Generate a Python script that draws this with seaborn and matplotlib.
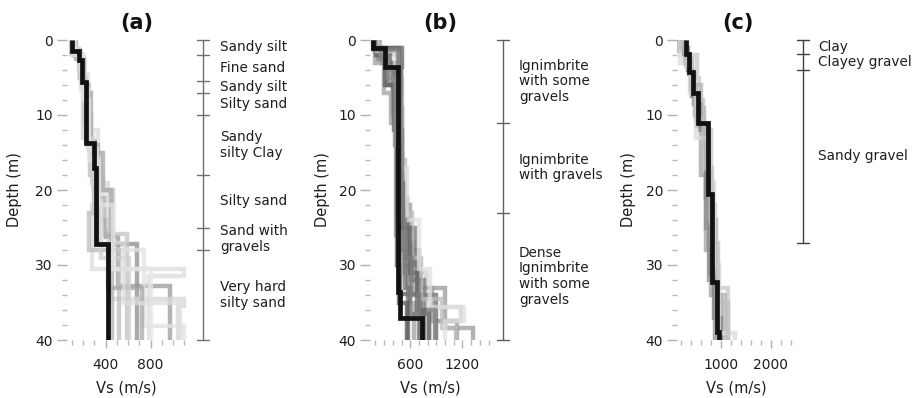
import numpy as np
import pandas as pd
import matplotlib
matplotlib.use("Agg")
import matplotlib.pyplot as plt
import seaborn as sns
from matplotlib.transforms import blended_transform_factory

sns.set_theme(style="white")
plt.rcParams['font.family'] = ['DejaVu Sans']

W, H = 923, 398
DEPTH_MAX = 40

# ---------------- Site (a) ----------------
A_MEAN_TOPS = [0, 1.4, 2.6, 5.6, 13.7, 17.0, 27.2]
A_MEAN_VS = [100, 160, 190, 222, 300, 315, 420]
A_TOPS = [
    [0, 1.5, 5.0, 13.5, 17.0, 24.0, 26.2, 32.8],
    [0, 1.4, 3.0, 6.0, 14.0, 18.0, 27.2],
    [0, 2.0, 6.0, 12.0, 18.0, 22.0, 30.5, 31.5],
    [0, 2.2, 7.0, 15.0, 19.0, 25.0, 34.5, 35.5],
    [0, 1.8, 5.5, 10.0, 16.0, 20.0, 25.8],
    [0, 1.6, 4.5, 12.0, 20.0, 28.0, 38.1],
    [0, 2.0, 6.0, 14.0, 21.0, 26.0],
    [0, 1.5, 5.0, 11.0, 18.0, 23.0, 28.0],
    [0, 2.5, 7.0, 15.0, 20.0, 27.0, 33.0],
    [0, 1.2, 4.0, 13.0, 19.0, 24.0, 29.0],
    [0, 2.0, 8.0, 16.0, 22.0, 30.5],
    [0, 1.8, 6.5, 14.5, 21.5, 27.0, 35.0],
]
A_VS = [
    [110, 175, 225, 305, 330, 400, 515, 975],
    [105, 170, 205, 240, 320, 335, 680],
    [115, 195, 250, 330, 380, 280, 1100, 790],
    [125, 205, 260, 360, 420, 440, 1100, 1045],
    [95, 180, 215, 270, 350, 470, 590],
    [130, 185, 240, 290, 300, 740, 1100],
    [120, 190, 245, 330, 390, 460],
    [100, 170, 210, 260, 300, 250, 520],
    [140, 210, 270, 380, 450, 420, 720],
    [110, 165, 200, 280, 320, 360, 610],
    [125, 200, 255, 340, 470, 800],
    [115, 185, 240, 320, 360, 560, 1060],
]
A_SHADES = ['#9a9a9a', '#8c8c8c', '#dcdcdc', '#d6d6d6', '#c4c4c4', '#e2e2e2',
            '#b0b0b0', '#bdbdbd', '#a8a8a8', '#cfcfcf', '#e6e6e6', '#dedede']
A_UNIT_BOUNDS = [0, 2, 5.5, 7, 10, 18, 25, 28, 40]
A_UNIT_NAMES = ["Sandy silt", "Fine sand", "Sandy silt", "Silty sand",
                "Sandy\nsilty Clay", "Silty sand", "Sand with\ngravels",
                "Very hard\nsilty sand"]

# ---------------- Site (b) ----------------
B_MEAN_TOPS = [0, 1.1, 3.6, 33.6, 37.0]
B_MEAN_VS = [176, 310, 460, 485, 730]
B_TOPS = [
    [0, 1.5, 3.0, 5.5, 8.0, 20.0, 26.0, 30.0, 33.1, 38.4],
    [0, 1.2, 3.0, 6.0, 12.0, 33.8],
    [0, 2.0, 5.0, 9.0, 20.0, 27.0, 31.0, 35.6, 37.5],
    [0, 1.5, 4.0, 8.0, 15.0, 22.0, 28.0, 33.0, 37.4],
    [0, 2.5, 6.0, 10.0, 24.0, 29.0, 34.0],
    [0, 1.0, 3.0, 7.0, 21.0, 27.0, 32.0, 36.0],
    [0, 1.0, 4.0, 9.0, 25.0, 30.0],
    [0, 3.0, 7.0, 11.0, 26.0, 31.0, 35.0],
    [0, 1.8, 5.0, 16.0, 23.0, 29.0, 34.5, 38.4],
    [0, 1.2, 3.5, 8.0, 22.0, 28.0, 33.0, 36.5],
    [0, 2.0, 6.0, 12.0, 30.0, 35.0],
    [0, 1.5, 3.5, 7.5, 17.0, 24.0, 30.5, 35.6, 37.4],
    [0, 1.0, 2.5, 5.0, 14.0, 23.0, 27.5, 32.0, 36.0],
    [0, 1.0, 3.6, 19.0, 25.0, 31.0, 36.0],
    [0, 1.3, 3.4, 12.0, 24.0, 29.0, 34.0],
]
B_VS = [
    [190, 300, 380, 420, 455, 500, 560, 713, 1000, 1320],
    [185, 320, 420, 460, 483, 713],
    [220, 360, 430, 470, 540, 640, 780, 1188, 900],
    [210, 340, 440, 480, 510, 600, 700, 850, 1136],
    [230, 330, 400, 450, 580, 680, 900],
    [180, 280, 400, 460, 560, 620, 760, 820],
    [240, 470, 490, 510, 650, 580],
    [200, 300, 380, 440, 520, 600, 640],
    [250, 480, 500, 540, 620, 720, 960, 1130],
    [190, 370, 450, 470, 500, 540, 600, 820],
    [210, 310, 410, 450, 470, 560],
    [215, 430, 480, 495, 560, 700, 828, 1218, 1000],
    [175, 260, 350, 430, 480, 520, 600, 700, 880],
    [200, 500, 480, 520, 600, 680, 760],
    [195, 460, 490, 500, 540, 620, 700],
]
B_SHADES = ['#9a9a9a', '#5a5a5a', '#d0d0d0', '#9a9a9a', '#6e6e6e', '#7a7a7a',
            '#707070', '#a0a0a0', '#bcbcbc', '#707070', '#5e5e5e', '#e0e0e0',
            '#8a8a8a', '#666666', '#7e7e7e']
B_UNIT_BOUNDS = [0, 11, 23, 40]
B_UNIT_NAMES = ["Ignimbrite\nwith some\ngravels", "Ignimbrite\nwith gravels",
                "Dense\nIgnimbrite\nwith some\ngravels"]

# ---------------- Site (c) ----------------
C_MEAN_TOPS = [0, 1.9, 4.2, 7.1, 11.0, 20.5, 32.2, 38.9]
C_MEAN_VS = [290, 356, 443, 543, 745, 810, 913, 966]
C_TOPS = [
    [0, 1.5, 3.0, 6.0, 10.0, 18.0, 28.0, 34.0],
    [0, 2.0, 5.0, 8.0, 12.0, 22.0, 33.0],
    [0, 1.0, 4.0, 7.5, 11.5, 21.0, 31.0, 37.0],
    [0, 2.5, 6.0, 9.0, 14.0, 24.0, 34.0],
    [0, 1.8, 4.5, 8.5, 12.0, 25.0, 32.0],
    [0, 3.0, 7.0, 13.0, 19.0, 30.0, 39.0],
    [0, 1.2, 3.5, 6.5, 10.5, 17.0, 27.0, 35.0],
]
C_VS = [
    [150, 280, 400, 470, 600, 700, 800, 1000],
    [250, 520, 560, 640, 800, 880, 1150],
    [200, 330, 420, 520, 700, 780, 860, 1000],
    [320, 420, 600, 650, 760, 900, 1080],
    [260, 360, 460, 580, 690, 760, 880],
    [180, 380, 500, 760, 850, 950, 1280],
    [230, 300, 400, 500, 650, 820, 930, 1150],
]
C_SHADES = ['#a0a0a0', '#c8c8c8', '#787878', '#b4b4b4', '#8c8c8c', '#dadada',
            '#c0c0c0']
C_UNIT_BOUNDS = [0, 1.8, 4, 27]
C_UNIT_NAMES = ["Clay", "Clayey gravel", "Sandy gravel"]


def step_coords(tops, vs, bottom=DEPTH_MAX):
    """Vs/depth vertices of a layered step profile."""
    bounds = list(tops) + [bottom]
    vel, dep = [], []
    for i, v in enumerate(vs):
        vel += [v, v]
        dep += [bounds[i], bounds[i + 1]]
    return vel, dep


def profiles_frame(all_tops, all_vs):
    rows = []
    for k, (t, v) in enumerate(zip(all_tops, all_vs)):
        vel, dep = step_coords(t, v)
        for j, (x, y) in enumerate(zip(vel, dep)):
            rows.append({"profile": k, "order": j, "Vs": x, "depth": y})
    return pd.DataFrame(rows)


def axes_px(fig, left, right, top, bottom):
    return fig.add_axes([left / W, 1 - bottom / H, (right - left) / W,
                         (bottom - top) / H])


fig = plt.figure(figsize=(W / 100, H / 100), dpi=100)

panels = [
    dict(tag="(a)", tops=A_TOPS, vs=A_VS, shades=A_SHADES,
         mtops=A_MEAN_TOPS, mvs=A_MEAN_VS, bounds=A_UNIT_BOUNDS,
         names=A_UNIT_NAMES, px=(66.5, 190), xlim=(53, 1151),
         major=[400, 800], minor=np.arange(100, 1101, 100),
         col_x=203, lab_x=220, title_x=137, ylab_x=15, xlab_x=126,
         col_color='#707070'),
    dict(tag="(b)", tops=B_TOPS, vs=B_VS, shades=B_SHADES,
         mtops=B_MEAN_TOPS, mvs=B_MEAN_VS, bounds=B_UNIT_BOUNDS,
         names=B_UNIT_NAMES, px=(370, 492), xlim=(138, 1540),
         major=[600, 1200], minor=np.arange(200, 1501, 100),
         col_x=503, lab_x=519, title_x=440, ylab_x=323, xlab_x=430,
         col_color='#606060'),
    dict(tag="(c)", tops=C_TOPS, vs=C_VS, shades=C_SHADES,
         mtops=C_MEAN_TOPS, mvs=C_MEAN_VS, bounds=C_UNIT_BOUNDS,
         names=C_UNIT_NAMES, px=(677, 795), xlim=(115, 2489),
         major=[1000, 2000], minor=np.arange(200, 2401, 200),
         col_x=803, lab_x=818, title_x=738, ylab_x=628, xlab_x=736,
         col_color='#404040'),
]

TOP_PX, BOT_PX = 40, 340
text_color = '#1e1e1e'

for p in panels:
    ax = axes_px(fig, p["px"][0], p["px"][1], TOP_PX, BOT_PX)
    df = profiles_frame(p["tops"], p["vs"])
    palette = {k: c for k, c in enumerate(p["shades"])}
    sns.lineplot(data=df, x="Vs", y="depth", hue="profile", units="profile",
                 estimator=None, sort=False, palette=palette, legend=False,
                 linewidth=3.2, alpha=0.75, ax=ax)
    mv, md = step_coords(p["mtops"], p["mvs"])
    mean_df = pd.DataFrame({"Vs": mv, "depth": md, "order": range(len(mv))})
    sns.lineplot(data=mean_df, x="Vs", y="depth", sort=False, estimator=None,
                 color='#111111', linewidth=3.4, ax=ax)
    for ln in ax.lines:
        ln.set_solid_joinstyle('miter')
        ln.set_solid_capstyle('butt')

    ax.set_xlim(*p["xlim"])
    ax.set_ylim(DEPTH_MAX, 0)
    ax.set_xticks(p["major"])
    ax.set_xticks(p["minor"], minor=True)
    ax.set_yticks([0, 10, 20, 30, 40])
    ax.set_yticks(np.arange(2, 40, 2), minor=True)
    ax.set_xlabel("")
    ax.set_ylabel("")
    for s in ax.spines.values():
        s.set_visible(False)
    ax.tick_params(axis='y', which='major', left=True, length=7, width=1,
                   color='#b0b0b0', pad=3, labelsize=10, labelcolor=text_color)
    ax.tick_params(axis='y', which='minor', left=True, length=3.5, width=1,
                   color='#b8b8b8')
    ax.tick_params(axis='x', which='major', bottom=True, length=6, width=1,
                   color='#b0b0b0', pad=7, labelsize=10, labelcolor=text_color)
    ax.tick_params(axis='x', which='minor', bottom=True, length=3.5, width=1,
                   color='#b8b8b8')
    ax.grid(False)

    # Stratigraphic column next to the profiles
    trans = blended_transform_factory(fig.transFigure, ax.transData)
    cx = p["col_x"] / W
    cap = 6 / W
    b = p["bounds"]
    ax.plot([cx, cx], [b[0], b[-1]], transform=trans, color=p["col_color"],
            lw=1.0, clip_on=False)
    for d in b:
        ax.plot([cx - cap, cx + cap], [d, d], transform=trans,
                color=p["col_color"], lw=1.0, clip_on=False)
    for i, name in enumerate(p["names"]):
        mid = 0.5 * (b[i] + b[i + 1])
        ax.text(p["lab_x"] / W, mid, name, transform=trans, ha='left',
                va='center', fontsize=9.8, linespacing=1.15,
                color=text_color, clip_on=False)

    fig.text(p["title_x"] / W, 1 - 23 / H, p["tag"], ha='center', va='center',
             fontsize=15, fontweight='bold', color='#111111')
    fig.text(p["ylab_x"] / W, 1 - 190 / H, "Depth (m)", rotation=90,
             ha='center', va='center', fontsize=10.5, color=text_color)
    fig.text(p["xlab_x"] / W, 1 - 388 / H, "Vs (m/s)", ha='center',
             va='center', fontsize=10.5, color=text_color)

fig.savefig("out.png", dpi=100)
